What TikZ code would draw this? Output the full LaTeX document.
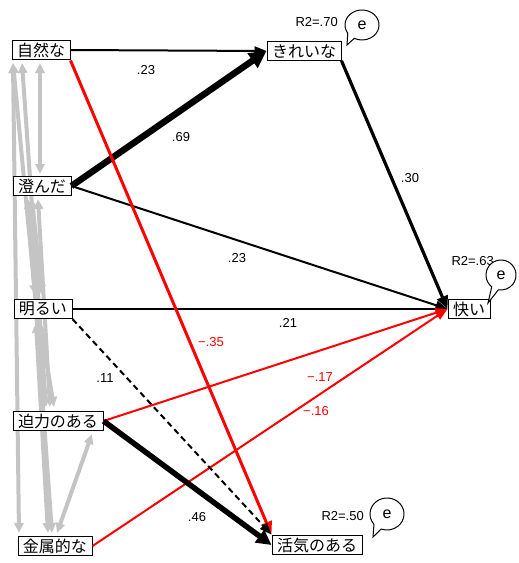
\documentclass[tikz,border=0pt]{standalone}
\usepackage{fontspec}
\setmainfont{Liberation Sans}
\newfontfamily\jp{Noto Sans CJK JP}
\usetikzlibrary{arrows.meta,calc}
\begin{document}
\begin{tikzpicture}[x=1pt,y=-1pt,
  var/.style={draw,fill=white,line width=1pt,inner xsep=5pt,inner ysep=2.5pt,font=\jp\fontsize{16}{17}\selectfont},
  lbl/.style={font=\fontsize{13}{14}\selectfont},
  rlbl/.style={font=\fontsize{13}{14}\selectfont,text=red},
  path/.style={line width=2pt,-{Triangle[length=12pt,width=9pt]}},
  rpath/.style={red,line width=2pt,-{Triangle[length=12pt,width=9pt]}},
  cov/.style={draw=black!23,line width=4pt,{Triangle[length=10pt,width=9pt]}-{Triangle[length=10pt,width=9pt]}},
  bubble/.style={draw,fill=white,line width=1pt}]
\useasboundingbox (0,0) rectangle (519,563);

% exogenous
\node[var] (n1) at (41,50) {自然な};
\node[var] (n2) at (42,186) {澄んだ};
\node[var] (n3) at (43,309) {明るい};
\node[var] (n4) at (58,421) {迫力のある};
\node[var] (n5) at (55,546) {金属的な};
% endogenous
\node[var] (n6) at (304,51) {きれいな};
\node[var] (n7) at (469,309) {快い};
\node[var] (n8) at (317,545) {活気のある};

% covariances
\draw[cov] (40,63) -- (40,174);
\draw[cov] (13,63) -- (35,295);
\draw[cov] (22,63) -- (46,407);
\draw[cov] (13,63) -- (19,533);
\draw[cov] (32,199) -- (42,295);
\draw[cov] (38,199) -- (50,407);
\draw[cov] (28,199) -- (52,533);
\draw[cov] (40,323) -- (54,407);
\draw[cov] (36,323) -- (48,533);
\draw[cov] (92,434) -- (57,533);

% redraw nodes on top of gray lines
\node[var] at (n1) {自然な};
\node[var] at (n2) {澄んだ};
\node[var] at (n3) {明るい};
\node[var] at (n4) {迫力のある};
\node[var] at (n5) {金属的な};

% paths
\draw[path] (n1.east) -- (n6.west);
\draw[path,line width=6.5pt,-{Triangle[length=17pt,width=17pt]}] (n2.east) -- (n6.west);
\draw[path] (n2.east) -- (n7.west);
\draw[path,line width=3.2pt,-{Triangle[length=13pt,width=11pt]}] (n6.south east) -- (n7.west);
\draw[path] (n3.east) -- (n7.west);
\draw[rpath] (n4.east) -- (n7.west);
\draw[rpath] (n5.east) -- (n7.west);
\draw[rpath,line width=3pt,-{Triangle[length=13pt,width=11pt]}] (n1.south east) -- (n8.north west);
\draw[path,dash pattern=on 6pt off 4pt] (n3.south east) -- (n8.north west);
\draw[path,line width=5.5pt,-{Triangle[length=15pt,width=15pt]}] (n4.east) -- (n8.west);

% coefficient labels
\node[lbl] (c1) at (146,70) {.23};
\node[lbl] (c2) at (181,137) {.69};
\node[lbl] (c3) at (410,178) {.30};
\node[lbl] (c4) at (237,258) {.23};
\node[lbl] (c5) at (288,323) {.21};
\node[rlbl] (c6) at (211,342) {−.35};
\node[lbl] (c7) at (105,378) {.11};
\node[rlbl] (c8) at (320,377) {−.17};
\node[rlbl] (c9) at (316,411) {−.16};
\node[lbl] (c10) at (197,517) {.46};

% R2 labels
\node[lbl,anchor=east,inner sep=0pt] (r1) at (338,22) {R2=.70};
\node[lbl,anchor=east,inner sep=0pt] (r2) at (494,261) {R2=.63};
\node[lbl,anchor=east,inner sep=0pt] (r3) at (364,516) {R2=.50};

% error bubbles
\coordinate (e1) at (362,25);
\draw[bubble] (347,45) -- ($(e1)+(147:17 and 15)$) arc[start angle=147,end angle=477,x radius=17,y radius=15] -- cycle;
\node[lbl,font=\fontsize{16}{17}\selectfont] (e1t) at (e1) {e};
\coordinate (e2) at (501,275);
\draw[bubble] (488,303) -- ($(e2)+(128:15 and 15)$) arc[start angle=128,end angle=460,x radius=15,y radius=15] -- cycle;
\node[lbl,font=\fontsize{16}{17}\selectfont] (e2t) at (e2) {e};
\coordinate (e3) at (387,514);
\draw[bubble] (373,537) -- ($(e3)+(140:17 and 16)$) arc[start angle=140,end angle=470,x radius=17,y radius=16] -- cycle;
\node[lbl,font=\fontsize{16}{17}\selectfont] (e3t) at (e3) {e};
\end{tikzpicture}
\end{document}
